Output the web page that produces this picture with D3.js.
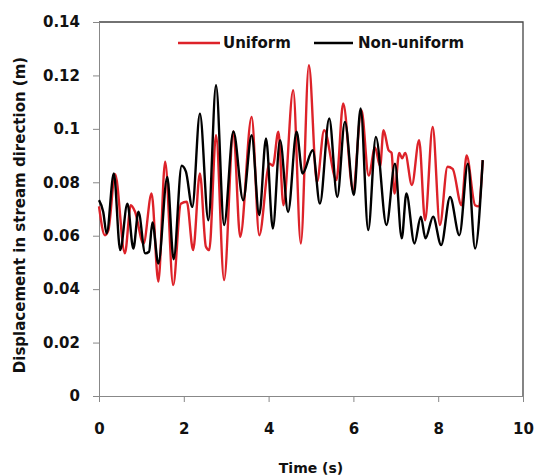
<!DOCTYPE html>
<html>
<head>
<meta charset="utf-8">
<script src="https://cdn.jsdelivr.net/npm/d3@7"></script>
<style>
	body { margin: 0; background: #fff; }
	svg text { font-family: 'DejaVu Sans', sans-serif; font-weight: bold; fill: #111; }
</style>
</head>
<body>
<div id="chart"></div>
<script>
// series: [time (s), displacement (m)]
const uniform = [
	[0.00, 0.0710], [0.14, 0.0602], [0.22, 0.0620], [0.38, 0.0830], [0.61, 0.0534],
	[0.75, 0.0714], [0.85, 0.0690], [1.05, 0.0570], [1.24, 0.0758], [1.40, 0.0428],
	[1.56, 0.0877], [1.75, 0.0415], [1.93, 0.0720], [2.07, 0.0727], [2.22, 0.0546],
	[2.38, 0.0833], [2.52, 0.0560], [2.60, 0.0546], [2.76, 0.0976], [2.95, 0.0434],
	[3.17, 0.0990], [3.33, 0.0596], [3.60, 0.1045], [3.78, 0.0602], [4.02, 0.0870],
	[4.10, 0.0862], [4.23, 0.0989], [4.35, 0.0714], [4.58, 0.1145], [4.76, 0.0571],
	[4.95, 0.1238], [5.14, 0.0800], [5.31, 0.0995], [5.60, 0.0808], [5.76, 0.1095],
	[5.99, 0.0770], [6.19, 0.1070], [6.36, 0.0825], [6.51, 0.0930], [6.63, 0.0860],
	[6.71, 0.0995], [6.83, 0.0920], [6.90, 0.0910], [6.97, 0.0758], [7.08, 0.0910],
	[7.15, 0.0890], [7.22, 0.0910], [7.38, 0.0790], [7.55, 0.0958], [7.69, 0.0658],
	[7.87, 0.1007], [8.04, 0.0640], [8.22, 0.0858], [8.34, 0.0850], [8.55, 0.0714],
	[8.67, 0.0900], [8.87, 0.0714], [8.95, 0.0710], [9.05, 0.0883]
];
const nonUniform = [
	[0.00, 0.0733], [0.10, 0.0689], [0.18, 0.0608], [0.35, 0.0833], [0.50, 0.0546],
	[0.67, 0.0720], [0.81, 0.0552], [0.93, 0.0690], [1.09, 0.0534], [1.18, 0.0540],
	[1.26, 0.0650], [1.40, 0.0496], [1.61, 0.0820], [1.76, 0.0512], [1.95, 0.0862],
	[2.05, 0.0840], [2.20, 0.0708], [2.38, 0.1057], [2.58, 0.0658], [2.76, 0.1163],
	[2.95, 0.0640], [3.17, 0.0990], [3.40, 0.0733], [3.60, 0.0976], [3.78, 0.0677],
	[3.94, 0.0964], [4.10, 0.0627], [4.27, 0.0958], [4.46, 0.0689], [4.66, 0.0989],
	[4.80, 0.0833], [5.04, 0.0920], [5.21, 0.0720], [5.43, 0.1039], [5.62, 0.0745],
	[5.80, 0.1026], [6.01, 0.0752], [6.17, 0.1076], [6.35, 0.0621], [6.53, 0.0970],
	[6.78, 0.0640], [6.98, 0.0870], [7.14, 0.0590], [7.25, 0.0758], [7.44, 0.0571],
	[7.59, 0.0671], [7.70, 0.0590], [7.88, 0.0671], [8.07, 0.0565], [8.28, 0.0745],
	[8.50, 0.0602], [8.70, 0.0870], [8.87, 0.0552], [9.05, 0.0883]
];
const xTicks = [0, 2, 4, 6, 8, 10];
const yTicks = [0, 0.02, 0.04, 0.06, 0.08, 0.1, 0.12, 0.14];
const seriesNames = ['Uniform', 'Non-uniform'];
const seriesColours = ['#dd2229', '#000000'];

const W = 535, H = 476;
const margin = {top: 22, right: 12, bottom: 80, left: 99};
const width = W - margin.left - margin.right;
const height = H - margin.top - margin.bottom;

const svg = d3.select('#chart').append('svg')
	.attr('width', W)
	.attr('height', H);
const g = svg.append('g')
	.attr('transform', `translate(${margin.left},${margin.top})`);

const x = d3.scaleLinear().domain([0, 10]).range([0, width]);
const y = d3.scaleLinear().domain([0, 0.14]).range([height, 0]);

// frame (top / right)
g.append('path')
	.attr('d', `M0,0H${width}V${height}`)
	.attr('fill', 'none')
	.attr('stroke', '#444')
	.attr('stroke-width', 1.3);

// axes
const yAxis = g.append('g')
	.call(d3.axisLeft(y).tickValues(yTicks).tickSizeOuter(0).tickSize(6).tickPadding(13)
		.tickFormat(d => d === 0 ? '0' : String(+d.toFixed(2))));
const xAxis = g.append('g')
	.attr('transform', `translate(0,${height})`)
	.call(d3.axisBottom(x).tickValues(xTicks).tickSizeOuter(0).tickSize(6).tickPadding(21));
[xAxis, yAxis].forEach(a => {
	a.selectAll('path, line').attr('stroke', '#888');
	a.selectAll('text').style('font-size', '15px').style('font-family', "'DejaVu Sans', sans-serif")
		.style('font-weight', 'bold').attr('fill', '#111');
});

// lines
const line = d3.line()
	.x(d => x(d[0]))
	.y(d => y(d[1]))
	.curve(d3.curveMonotoneX);

[uniform, nonUniform].forEach((s, i) => {
	g.append('path')
		.datum(s)
		.attr('fill', 'none')
		.attr('stroke', seriesColours[i])
		.attr('stroke-width', 2.4)
		.attr('stroke-linejoin', 'round')
		.attr('d', line);
});

// legend
const legendX = [79, 215];
seriesNames.forEach((name, i) => {
	const lg = g.append('g').attr('transform', `translate(${legendX[i]},21)`);
	lg.append('line')
		.attr('x1', 0).attr('x2', i === 0 ? 42 : 39)
		.attr('stroke', seriesColours[i])
		.attr('stroke-width', 2.4);
	lg.append('text')
		.attr('x', i === 0 ? 45 : 44)
		.attr('dy', '0.36em')
		.style('font-size', '15px')
		.text(name);
});

// axis titles
svg.append('text')
	.attr('x', 311)
	.attr('y', 473)
	.attr('text-anchor', 'middle')
	.style('font-size', '14px')
	.text('Time (s)');
svg.append('text')
	.attr('transform', 'translate(25,215) rotate(-90)')
	.attr('text-anchor', 'middle')
	.style('font-size', '15px')
	.text('Displacement in stream direction (m)');
</script>
</body>
</html>
